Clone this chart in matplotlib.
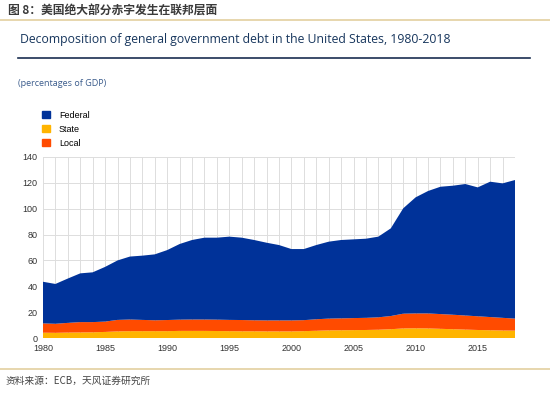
import matplotlib
matplotlib.use("Agg")
import matplotlib.pyplot as plt
from matplotlib.lines import Line2D
from matplotlib.patches import Patch

plt.rcParams['font.family'] = ['Noto Sans CJK SC', 'DejaVu Sans']

# --- data (percentages of GDP) ---
years = list(range(1980, 2019))
state = [4.1, 4.0, 4.2, 4.3, 4.4, 4.7, 5.1, 5.3, 5.3, 5.3,
         5.3, 5.5, 5.5, 5.5, 5.4, 5.3, 5.2, 5.2, 5.1, 5.1,
         5.1, 5.3, 5.6, 5.9, 6.0, 6.1, 6.2, 6.4, 6.8, 7.4,
         7.5, 7.4, 7.1, 6.8, 6.5, 6.2, 6.0, 5.8, 5.7]
local = [7.2, 7.0, 7.5, 8.0, 7.9, 8.0, 8.9, 9.0, 8.7, 8.4,
         8.6, 8.7, 8.8, 8.8, 8.8, 8.7, 8.7, 8.5, 8.5, 8.5,
         8.5, 8.5, 8.9, 9.1, 9.2, 9.3, 9.4, 9.6, 10.2, 11.4,
         11.5, 11.6, 11.4, 11.2, 10.9, 10.6, 10.2, 9.8, 9.3]
federal = [32.2, 30.8, 34.3, 37.7, 38.5, 42.3, 46.0, 48.7, 49.7, 51.0,
           54.1, 58.5, 61.5, 63.3, 63.4, 64.4, 63.7, 62.1, 60.1, 58.3,
           55.2, 55.0, 57.4, 59.5, 60.6, 60.9, 61.2, 62.4, 67.8, 81.5,
           89.8, 94.7, 98.5, 99.8, 101.7, 99.7, 104.7, 104.0, 107.2]
labels = ['Federal', 'State', 'Local']
colors = {'Federal': '#003299', 'State': '#ffb400', 'Local': '#ff4b00'}

fig = plt.figure(figsize=(5.5, 3.93), dpi=100)

# header / footer text and rules
fig.text(8 / 550, 1 - 10 / 393, '图 8：美国绝大部分赤字发生在联邦层面',
         fontsize=8.5, fontweight='bold', color='#3a3a3a', va='center')
fig.add_artist(Line2D([0, 1], [1 - 20 / 393] * 2, color='#e3cf9f', lw=1.2))
fig.text(20 / 550, 1 - 40 / 393,
         'Decomposition of general government debt in the United States, 1980-2018',
         fontsize=8.8, color='#17365d', va='center', family='Open Sans')
fig.add_artist(Line2D([18 / 550, 530 / 550], [1 - 58 / 393] * 2, color='#1a2e50', lw=1.2))
fig.text(18 / 550, 1 - 83 / 393, '(percentages of GDP)',
         fontsize=6.5, color='#3b5c8c', va='center', family='Open Sans')
fig.add_artist(Line2D([0, 1], [1 - 369 / 393] * 2, color='#e3cf9f', lw=1.2))
fig.text(6 / 550, 1 - 381 / 393, '资料来源：ECB，天风证券研究所',
         fontsize=7, color='#444444', va='center')

# chart
ax = fig.add_axes([43 / 550, 1 - 338 / 393, 472 / 550, 181 / 393])
ax.stackplot(years, state, local, federal,
             colors=[colors['State'], colors['Local'], colors['Federal']],
             lw=0, zorder=2)
ax.set_xlim(1980, 2018)
ax.set_ylim(0, 140)
ax.set_xticks(range(1980, 2019, 5))
ax.set_xticks(years, minor=True)
ax.set_yticks(range(0, 141, 20))
ax.grid(True, which='both', color='#dddddd', lw=0.7, zorder=0)
ax.tick_params(which='both', length=0, labelsize=6.5, colors='#333333', pad=4)
for t in ax.get_xticklabels() + ax.get_yticklabels():
    t.set_family('Liberation Sans')
for s in ax.spines.values():
    s.set_visible(False)
ax.set_axisbelow(True)

handles = [Patch(color=colors[l]) for l in labels]
fig.legend(handles, labels, loc='upper left', bbox_to_anchor=(38 / 550, 1 - 107 / 393),
           frameon=False, prop={'family': 'Liberation Sans', 'size': 6.5},
           handlelength=0.9, handleheight=0.9,
           handletextpad=1.0, labelspacing=0.55, borderaxespad=0)

fig.savefig('out.png', dpi=100)
